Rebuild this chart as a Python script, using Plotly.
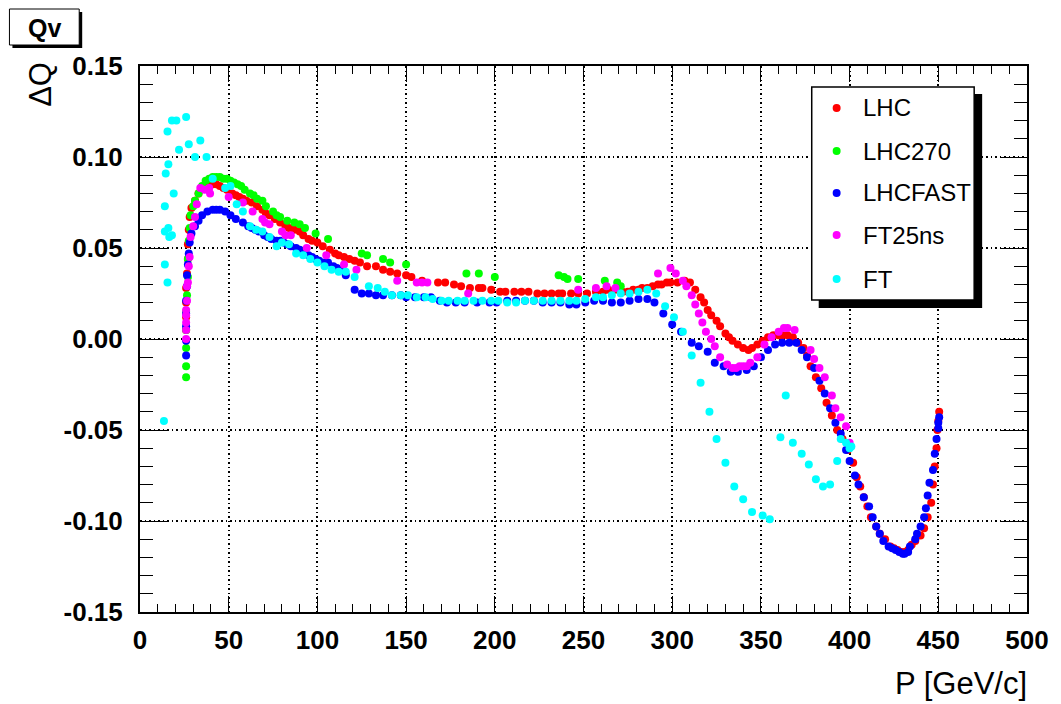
import plotly.graph_objects as go

# ---------------- data ----------------
series_names = ["LHC", "LHC270", "LHCFAST", "FT25ns", "FT"]
series_colors = ["#ff0000", "#00ff00", "#0000ff", "#ff00ff", "#00ffff"]

lhc_x = [26, 26, 26, 26, 26.5, 27, 27, 27.5, 28, 29,
         31, 33, 35, 38, 41, 43, 45, 47, 49, 52,
         54, 56, 58, 60, 63, 66, 69, 71, 73, 76,
         79, 82, 84, 87, 90, 92, 95, 97, 100, 103,
         107, 110, 112, 115, 118, 121, 124, 128, 133, 137,
         141, 145, 150, 153, 159, 168, 172, 177, 181, 186,
         191, 193, 198, 203, 206, 211, 215, 219, 224, 228,
         232, 236, 238, 243, 247, 252, 257, 261, 264, 268,
         272, 275, 278, 281, 283, 286, 289, 292, 294, 297,
         299, 303, 307, 310, 313, 316, 318, 320, 322, 325,
         327, 330, 332, 334, 337, 340, 343, 345, 348, 351,
         354, 357, 360, 362, 365, 368, 371, 374, 376, 378,
         381, 384, 387, 390, 393, 396, 399, 402, 404, 406,
         408, 410, 412, 415, 417, 420, 423, 425, 427, 429,
         431, 433, 435, 437, 440, 442, 444, 446, 447, 448,
         449, 449.5, 450, 450.5]
lhc_y = [0.005, 0.012, 0.020, 0.028, 0.036, 0.044, 0.052, 0.060, 0.067, 0.072,
         0.076, 0.080, 0.083, 0.084, 0.085, 0.085, 0.084, 0.083, 0.082, 0.080,
         0.079, 0.078, 0.077, 0.076, 0.075, 0.073, 0.071, 0.069, 0.068, 0.066,
         0.064, 0.062, 0.061, 0.060, 0.059, 0.057, 0.055, 0.054, 0.053, 0.051,
         0.049, 0.047, 0.046, 0.045, 0.044, 0.043, 0.042, 0.040, 0.040, 0.038,
         0.037, 0.036, 0.035, 0.034, 0.032, 0.031, 0.031, 0.030, 0.029, 0.028,
         0.028, 0.028, 0.027, 0.026, 0.026, 0.026, 0.026, 0.026, 0.025, 0.025,
         0.025, 0.025, 0.025, 0.025, 0.025, 0.025, 0.026, 0.026, 0.027, 0.027,
         0.026, 0.026, 0.027, 0.027, 0.028, 0.028, 0.029, 0.030, 0.030, 0.031,
         0.031, 0.031, 0.032, 0.031, 0.027, 0.023, 0.020, 0.016, 0.013, 0.010,
         0.007, 0.003, 0.001, -0.001, -0.003, -0.005, -0.006, -0.005, -0.003, -0.001,
         0.001, 0.002, 0.002, 0.002, 0.002, 0.001, -0.002, -0.005, -0.009, -0.015,
         -0.021, -0.027, -0.035, -0.042, -0.050, -0.055, -0.061, -0.068, -0.076, -0.081,
         -0.087, -0.092, -0.098, -0.103, -0.107, -0.110, -0.114, -0.115, -0.116, -0.117,
         -0.117, -0.116, -0.113, -0.111, -0.108, -0.104, -0.098, -0.090, -0.080, -0.070,
         -0.060, -0.050, -0.045, -0.040]

lhc270_x = [26, 26, 26, 26, 26, 26.5, 27, 27, 27.5, 28,
            28.5, 30, 31, 33, 35, 37, 39, 41, 43, 45,
            47, 49, 51, 53, 55, 57, 59, 62, 64, 66,
            69, 71, 75, 77, 79, 83, 87, 90, 93, 99,
            106, 125, 128, 137, 141, 150, 184, 191, 200, 236,
            239, 241, 247, 262, 269, 271]
lhc270_y = [-0.021, -0.015, -0.005, 0.005, 0.015, 0.024, 0.034, 0.044, 0.054, 0.061,
            0.068, 0.073, 0.076, 0.080, 0.084, 0.087, 0.088, 0.089, 0.089, 0.089,
            0.088, 0.088, 0.087, 0.086, 0.085, 0.084, 0.082, 0.080, 0.079, 0.077,
            0.076, 0.073, 0.070, 0.068, 0.067, 0.065, 0.064, 0.063, 0.061, 0.058,
            0.055, 0.047, 0.046, 0.044, 0.042, 0.041, 0.036, 0.036, 0.034, 0.035,
            0.034, 0.033, 0.033, 0.032, 0.031, 0.029]

lhcfast_x = [26, 26, 26, 26, 26, 26.5, 26.5, 27, 27.5, 28,
             29, 31, 33, 35, 38, 41, 43, 45, 48, 51,
             54, 58, 61, 63, 65, 67, 70, 72, 74, 77,
             79, 81, 83, 85, 88, 90, 93, 95, 97, 99,
             101, 104, 106, 109, 111, 113, 116, 121, 125, 129,
             133, 137, 142, 147, 150, 155, 160, 164, 169, 173,
             178, 183, 190, 197, 201, 207, 212, 217, 222, 227,
             232, 237, 242, 246, 251, 256, 261, 266, 271, 276,
             281, 286, 290, 295, 300, 305, 311, 315, 320, 324,
             329, 333, 337, 342, 346, 350, 354, 358, 362, 366,
             370, 373, 376, 380, 383, 386, 389, 392, 395, 398,
             400, 403, 405, 408, 411, 413, 415, 417, 419, 422,
             424, 426, 428, 430, 431, 433, 434, 437, 438, 440,
             442, 443, 444, 445, 447, 448, 449, 450, 450, 450.5]
lhcfast_y = [-0.009, -0.001, 0.007, 0.014, 0.021, 0.029, 0.035, 0.041, 0.047, 0.053,
             0.058, 0.062, 0.065, 0.068, 0.070, 0.071, 0.071, 0.071, 0.070, 0.068,
             0.066, 0.064, 0.062, 0.061, 0.060, 0.059, 0.057, 0.056, 0.055, 0.054,
             0.054, 0.053, 0.052, 0.051, 0.050, 0.049, 0.047, 0.046, 0.045, 0.044,
             0.043, 0.042, 0.042, 0.040, 0.039, 0.038, 0.035, 0.027, 0.025, 0.025,
             0.024, 0.024, 0.024, 0.024, 0.023, 0.023, 0.023, 0.023, 0.021, 0.020,
             0.020, 0.020, 0.020, 0.020, 0.020, 0.021, 0.021, 0.021, 0.021, 0.020,
             0.020, 0.020, 0.019, 0.019, 0.020, 0.021, 0.021, 0.020, 0.020, 0.021,
             0.022, 0.022, 0.020, 0.014, 0.008, 0.004, -0.002, -0.004, -0.007, -0.013,
             -0.015, -0.018, -0.018, -0.017, -0.015, -0.010, -0.006, -0.003, -0.002, -0.002,
             -0.002, -0.006, -0.010, -0.016, -0.023, -0.030, -0.038, -0.046, -0.052, -0.061,
             -0.067, -0.075, -0.080, -0.087, -0.092, -0.098, -0.103, -0.107, -0.111, -0.114,
             -0.115, -0.116, -0.117, -0.118, -0.118, -0.117, -0.114, -0.110, -0.107, -0.103,
             -0.098, -0.093, -0.086, -0.079, -0.072, -0.063, -0.055, -0.049, -0.046, -0.043]

ft25ns_x = [26, 26, 26, 26, 26, 26.5, 26.5, 27, 27.5, 28,
            28.5, 30, 31, 32, 34, 36.5, 39, 39.5, 50, 58,
            63.5, 69, 70.5, 73, 80, 82, 85, 94, 105, 115,
            122, 145, 156, 159, 162, 185, 247, 257, 263, 268,
            292, 299, 302, 306, 308, 311, 313, 315, 317, 319,
            322, 324, 327, 331, 334, 336, 338, 340, 342, 344,
            348, 352, 356, 360, 363, 365, 369, 378, 380, 383,
            386, 390, 392, 395, 398, 400]
ft25ns_y = [0.000, 0.005, 0.009, 0.013, 0.016, 0.021, 0.029, 0.031, 0.040, 0.045,
            0.056, 0.062, 0.067, 0.074, 0.083, 0.082, 0.083, 0.080, 0.078, 0.075,
            0.070, 0.066, 0.064, 0.063, 0.059, 0.057, 0.057, 0.050, 0.046, 0.041,
            0.038, 0.032, 0.031, 0.031, 0.031, 0.025, 0.027, 0.028, 0.029, 0.028,
            0.036, 0.039, 0.036, 0.032, 0.029, 0.024, 0.019, 0.014, 0.009, 0.004,
            0.000, -0.004, -0.010, -0.014, -0.016, -0.016, -0.015, -0.015, -0.015, -0.013,
            -0.010, -0.003, 0.001, 0.004, 0.006, 0.006, 0.005, -0.006, -0.011, -0.016,
            -0.021, -0.031, -0.038, -0.043, -0.048, -0.057]

ft_x = [13.5, 14, 14, 14, 14.5, 15.5, 15.5, 16, 16, 16.5,
        18, 18, 19, 20.5, 22, 26, 27.5, 31, 34, 37.5,
        41, 48, 51, 54.5, 58, 62, 65.5, 69, 73, 77,
        80, 84, 88, 92, 96, 100, 104, 108, 112, 116,
        121, 129, 134, 138, 142, 147, 151, 156, 161, 165,
        170, 174, 179, 183, 188, 193, 198, 202, 207, 212,
        217, 222, 227, 232, 237, 242, 246, 251, 257, 261,
        266, 271, 276, 281, 286, 291, 296, 301, 306, 311,
        316, 321, 325, 330, 335, 340, 345, 351, 355, 361,
        364, 368, 373, 377, 381, 385, 389, 393, 395, 398,
        400, 401]
ft_y = [-0.045, 0.041, 0.059, 0.073, 0.091, 0.031, 0.114, 0.061, 0.096, 0.056,
        0.057, 0.120, 0.080, 0.120, 0.104, 0.122, 0.107, 0.100, 0.109, 0.100,
        0.088, 0.083, 0.084, 0.074, 0.070, 0.062, 0.060, 0.059, 0.056, 0.051,
        0.053, 0.052, 0.047, 0.046, 0.044, 0.042, 0.040, 0.038, 0.037, 0.037,
        0.034, 0.029, 0.028, 0.026, 0.024, 0.024, 0.024, 0.023, 0.023, 0.022,
        0.021, 0.021, 0.021, 0.021, 0.021, 0.021, 0.021, 0.021, 0.020, 0.020,
        0.021, 0.021, 0.021, 0.021, 0.021, 0.021, 0.021, 0.022, 0.023, 0.023,
        0.024, 0.025, 0.025, 0.026, 0.027, 0.025, 0.018, 0.012, 0.004, -0.009,
        -0.024, -0.040, -0.055, -0.068, -0.081, -0.088, -0.095, -0.097, -0.099, -0.054,
        -0.031, -0.057, -0.063, -0.069, -0.077, -0.081, -0.080, -0.067, -0.055, -0.057,
        -0.060, -0.059]

x_tickvals = [0, 50, 100, 150, 200, 250, 300, 350, 400, 450, 500]
x_ticktext = ["0", "50", "100", "150", "200", "250", "300", "350", "400", "450", "500"]
y_tickvals = [-0.15, -0.10, -0.05, 0.0, 0.05, 0.10, 0.15]
y_ticktext = ["-0.15", "-0.10", "-0.05", "0.00", "0.05", "0.10", "0.15"]

title_text = "Qv"
x_title = "P [GeV/c]"
y_title = "\u0394Q"

# ---------------- layout helpers ----------------
W, H = 1061, 704          # browser window
BODY = 8                  # default page margin around the figure div
PL, PR, PT, PB = 140, 1030, 66, 612   # plot area in window pixels


def fx(p):
    return (p - PL) / (PR - PL)


def fy(p):
    return (PB - p) / (PB - PT)


FONT = "Liberation Sans, Arial, Helvetica, sans-serif"

series = [(lhc_x, lhc_y), (lhc270_x, lhc270_y), (lhcfast_x, lhcfast_y),
          (ft25ns_x, ft25ns_y), (ft_x, ft_y)]
for (xs, ys) in series:
    assert len(xs) == len(ys)

fig = go.Figure()
for name, color, (xs, ys) in zip(series_names, series_colors, series):
    fig.add_trace(go.Scatter(x=xs, y=ys, mode="markers", name=name,
                             marker=dict(color=color, size=8, line=dict(width=0)),
                             showlegend=False))

# manual legend (ROOT style box with shadow), drawn above the grid
leg_rows_px = [108, 151, 193, 235, 279]
leg_marker_px = 839
leg_text_px = 863
MR = 4  # legend symbol radius in px

shapes = [
    dict(type="rect", xref="paper", yref="paper", x0=fx(821), x1=fx(985),
         y0=fy(308), y1=fy(94), fillcolor="black", line=dict(width=0), layer="above"),
    dict(type="rect", xref="paper", yref="paper", x0=fx(814), x1=fx(977),
         y0=fy(300), y1=fy(87), fillcolor="white", line=dict(color="black", width=1.5),
         layer="above"),
    # title box shadow + box
    dict(type="rect", xref="paper", yref="paper", x0=fx(12), x1=fx(82),
         y0=fy(48), y1=fy(12), fillcolor="black", line=dict(width=0)),
    dict(type="rect", xref="paper", yref="paper", x0=fx(9), x1=fx(79),
         y0=fy(45), y1=fy(9), fillcolor="white", line=dict(color="black", width=1)),
]
for color, p in zip(series_colors, leg_rows_px):
    shapes.append(dict(type="circle", xref="paper", yref="paper",
                       x0=fx(leg_marker_px - MR), x1=fx(leg_marker_px + MR),
                       y0=fy(p + MR), y1=fy(p - MR),
                       fillcolor=color, line=dict(width=0), layer="above"))

annotations = [
    dict(text=title_text, x=fx(44), y=fy(28), xref="paper", yref="paper",
         showarrow=False, xanchor="center", yanchor="middle",
         font=dict(family=FONT, size=25, color="black", weight="bold")),
    dict(text=y_title, x=fx(40), y=fy(60), xref="paper", yref="paper",
         showarrow=False, xanchor="center", yanchor="top", textangle=-90,
         font=dict(family=FONT, size=31, color="black")),
    dict(text=x_title, x=fx(1032), y=fy(683), xref="paper", yref="paper",
         showarrow=False, xanchor="right", yanchor="middle",
         font=dict(family=FONT, size=31, color="black")),
]
for name, p in zip(series_names, leg_rows_px):
    annotations.append(dict(text=name, x=fx(leg_text_px), y=fy(p), xref="paper", yref="paper",
                            showarrow=False, xanchor="left", yanchor="middle",
                            font=dict(family=FONT, size=24, color="black")))

axis_common = dict(showline=True, linecolor="black", linewidth=2, mirror="allticks",
                   ticks="inside", tickcolor="black", tickwidth=1,
                   showgrid=True, gridcolor="black", gridwidth=1.5, griddash="1.5px,3px",
                   zeroline=False,
                   tickfont=dict(family=FONT, size=26, color="black", weight="bold"))

fig.update_layout(
    width=W - BODY, height=H - BODY,
    margin=dict(l=PL - BODY, r=W - PR, t=PT - BODY, b=H - PB, pad=0),
    paper_bgcolor="white", plot_bgcolor="white",
    showlegend=False,
    xaxis=dict(range=[0, 500], tickmode="array", tickvals=x_tickvals, ticktext=x_ticktext,
               ticklen=16, ticklabelstandoff=4,
               minor=dict(dtick=10, ticklen=8, ticks="inside", tickcolor="black", showgrid=False),
               **axis_common),
    yaxis=dict(range=[-0.15, 0.15], tickmode="array", tickvals=y_tickvals, ticktext=y_ticktext,
               ticklen=27, ticklabelstandoff=10,
               minor=dict(dtick=0.01, ticklen=13, ticks="inside", tickcolor="black", showgrid=False),
               **axis_common),
    shapes=shapes,
    annotations=annotations,
)

fig.write_html("out.html")
